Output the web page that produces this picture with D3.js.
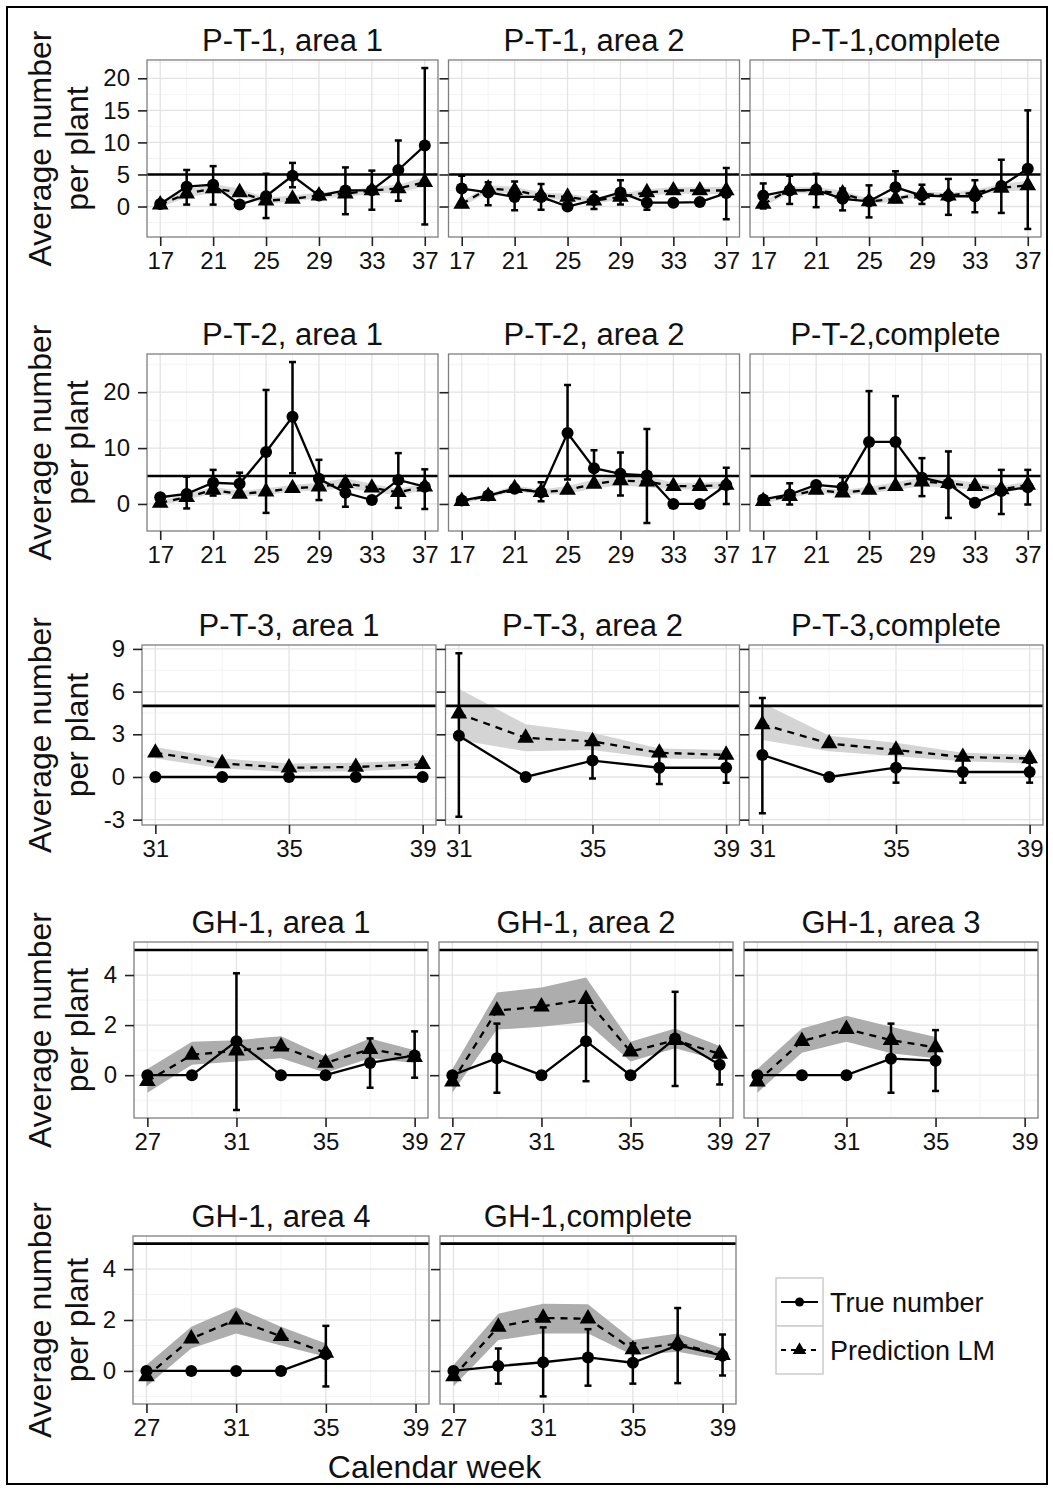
<!DOCTYPE html>
<html>
<head>
<meta charset="utf-8">
<script src="https://cdn.jsdelivr.net/npm/d3@7"></script>
<style>
  body { margin: 0; background: #fff; }
  svg text { font-family: "Liberation Sans", Arial, sans-serif; fill: #111; }
</style>
</head>
<body>
<svg id="chart" width="1053" height="1490"></svg>
<script>
// calendar weeks per trial
const weeksPT = [17, 19, 21, 23, 25, 27, 29, 31, 33, 35, 37];
const weeksPT3 = [31, 33, 35, 37, 39];
const weeksGH = [27, 29, 31, 33, 35, 37, 39];
const weeksGHshort = [27, 29, 31, 33, 35];
const threshold = 5;

// P-T-1, area 1
const pt1a1True = [0.4, 3.1, 3.4, 0.3, 1.6, 4.8, 1.7, 2.5, 2.55, 5.7, 9.5];
const pt1a1ErrLo = [null, 0.3, 0.3, null, -1.8, 3.0, null, -1.2, -0.5, 0.9, -2.8];
const pt1a1ErrHi = [null, 5.7, 6.3, null, 5.1, 6.8, null, 6.1, 5.6, 10.3, 21.6];
const pt1a1Pred = [0.3, 2.0, 2.8, 2.2, 0.9, 1.2, 1.7, 2.0, 2.5, 2.8, 3.8];
const pt1a1BandLo = [-0.1, 1.4, 2.1, 1.6, 0.4, 0.8, 1.3, 1.5, 2.0, 2.2, 3.1];
const pt1a1BandHi = [0.7, 2.6, 3.5, 2.8, 1.4, 1.7, 2.2, 2.5, 3.0, 3.4, 4.6];

// P-T-1, area 2
const pt1a2True = [2.8, 2.2, 1.5, 1.5, 0, 1.0, 2.2, 0.6, 0.6, 0.7, 2.1];
const pt1a2ErrLo = [0.8, 0.2, -0.6, -0.5, null, -0.4, 0.3, -0.5, null, null, -2.0];
const pt1a2ErrHi = [4.8, 3.8, 3.9, 3.5, null, 2.3, 4.1, 1.7, null, null, 6.0];
const pt1a2Pred = [0.4, 2.8, 2.5, 1.7, 1.5, 0.9, 1.5, 2.2, 2.5, 2.5, 2.5];
const pt1a2BandLo = [0.0, 2.2, 2.0, 1.2, 1.0, 0.5, 1.0, 1.7, 2.0, 2.0, 1.9];
const pt1a2BandHi = [0.8, 3.3, 3.1, 2.2, 2.0, 1.4, 2.0, 2.7, 3.0, 3.0, 3.1];

// P-T-1, complete
const pt1cTrue = [1.7, 2.5, 2.6, 1.2, 0.8, 3.0, 1.7, 1.6, 1.6, 3.2, 5.9];
const pt1cErrLo = [-0.3, 0.4, -0.1, -0.6, -1.7, 0.7, 0.4, -1.3, -0.9, -1.0, -3.5];
const pt1cErrHi = [3.6, 4.8, 5.1, 2.8, 3.3, 5.5, 3.4, 4.3, 4.1, 7.3, 15.0];
const pt1cPred = [0.4, 2.6, 2.5, 2.0, 0.8, 1.2, 2.0, 1.7, 2.2, 2.9, 3.3];
const pt1cBandLo = [0.0, 2.1, 2.0, 1.5, 0.4, 0.8, 1.6, 1.3, 1.8, 2.3, 2.6];
const pt1cBandHi = [0.8, 3.1, 3.0, 2.5, 1.2, 1.6, 2.4, 2.1, 2.6, 3.5, 4.0];

// P-T-2, area 1
const pt2a1True = [1.2, 1.8, 3.8, 3.6, 9.3, 15.6, 4.5, 2.0, 0.7, 4.3, 3.1];
const pt2a1ErrLo = [null, -0.8, 1.5, 1.5, -1.6, 5.5, 0.7, -0.5, null, -0.7, -0.9];
const pt2a1ErrHi = [null, 4.9, 6.1, 5.6, 20.4, 25.4, 7.9, 4.2, null, 9.1, 6.2];
const pt2a1Pred = [0.2, 1.2, 2.5, 1.8, 2.2, 2.8, 3.1, 3.7, 2.9, 2.1, 3.1];
const pt2a1BandLo = [-0.2, 0.7, 1.9, 1.3, 1.6, 2.2, 2.4, 2.8, 2.2, 1.5, 2.5];
const pt2a1BandHi = [0.6, 1.7, 3.1, 2.3, 2.8, 3.4, 3.8, 4.6, 3.6, 2.7, 3.7];

// P-T-2, area 2
const pt2a2True = [0.6, 1.5, 2.7, 2.1, 12.7, 6.4, 5.4, 5.1, 0, 0, 3.4];
const pt2a2ErrLo = [null, null, null, 0.5, 4.4, 3.2, 1.5, -3.4, null, null, 0.0];
const pt2a2ErrHi = [null, null, null, 3.9, 21.3, 9.6, 9.2, 13.4, null, null, 6.5];
const pt2a2Pred = [0.5, 1.4, 2.8, 2.1, 2.5, 3.6, 4.2, 4.0, 3.2, 3.2, 3.4];
const pt2a2BandLo = [0.1, 1.0, 2.3, 1.6, 1.8, 2.8, 3.3, 3.0, 2.6, 2.6, 2.8];
const pt2a2BandHi = [0.9, 1.8, 3.3, 2.6, 3.2, 4.4, 5.1, 5.0, 3.8, 3.8, 4.0];

// P-T-2, complete
const pt2cTrue = [0.8, 1.7, 3.4, 3.0, 11.1, 11.1, 4.7, 3.6, 0.2, 2.3, 3.0];
const pt2cErrLo = [null, -0.1, null, 1.5, 2.9, 2.9, 1.4, -2.5, null, -1.8, -0.1];
const pt2cErrHi = [null, 3.7, null, 4.8, 20.2, 19.3, 8.2, 9.4, null, 6.1, 6.1];
const pt2cPred = [0.5, 1.4, 2.5, 2.0, 2.5, 3.2, 4.0, 3.7, 3.2, 2.6, 3.4];
const pt2cBandLo = [0.1, 1.0, 2.0, 1.5, 1.9, 2.5, 3.2, 2.9, 2.6, 2.0, 2.8];
const pt2cBandHi = [0.9, 1.8, 3.0, 2.5, 3.1, 3.9, 4.8, 4.5, 3.8, 3.2, 4.0];

// P-T-3
const pt3a1True = [0, 0, 0, 0, 0];
const pt3a1ErrLo = [null, null, null, null, null];
const pt3a1ErrHi = [null, null, null, null, null];
const pt3a1Pred = [1.7, 0.95, 0.65, 0.7, 0.9];
const pt3a1BandLo = [1.3, 0.6, 0.35, 0.4, 0.6];
const pt3a1BandHi = [2.1, 1.3, 0.95, 1.0, 1.2];

const pt3a2True = [2.9, 0, 1.15, 0.65, 0.65];
const pt3a2ErrLo = [-2.8, null, -0.1, -0.5, -0.4];
const pt3a2ErrHi = [8.7, null, 2.5, 1.7, 1.6];
const pt3a2Pred = [4.45, 2.75, 2.5, 1.7, 1.55];
const pt3a2BandLo = [2.6, 1.8, 1.9, 1.3, 1.25];
const pt3a2BandHi = [6.2, 3.7, 3.1, 2.0, 1.9];

const pt3cTrue = [1.55, 0, 0.65, 0.35, 0.35];
const pt3cErrLo = [-2.55, null, -0.4, -0.4, -0.4];
const pt3cErrHi = [5.55, null, 1.9, 1.2, 1.0];
const pt3cPred = [3.7, 2.35, 1.9, 1.4, 1.3];
const pt3cBandLo = [2.6, 1.8, 1.45, 1.1, 0.95];
const pt3cBandHi = [5.2, 2.9, 2.4, 1.7, 1.55];

// GH-1
const gh1a1True = [0, 0, 1.36, 0, 0, 0.49, 0.79];
const gh1a1ErrLo = [null, null, -1.39, null, null, -0.5, -0.1];
const gh1a1ErrHi = [null, null, 4.07, null, null, 1.47, 1.75];
const gh1a1Pred = [-0.24, 0.81, 0.98, 1.14, 0.49, 1.04, 0.72];
const gh1a1BandLo = [-0.7, 0.42, 0.55, 0.68, 0.1, 0.68, 0.49];
const gh1a1BandHi = [0.25, 1.34, 1.4, 1.56, 0.75, 1.47, 1.0];

const gh1a2True = [0, 0.68, 0, 1.36, 0, 1.47, 0.42];
const gh1a2ErrLo = [null, -0.7, null, -0.24, null, -0.43, -0.37];
const gh1a2ErrHi = [null, 2.06, null, 3.1, null, 3.33, 0.75];
const gh1a2Pred = [-0.26, 2.58, 2.74, 3.04, 0.94, 1.4, 0.85];
const gh1a2BandLo = [-0.7, 1.82, 1.93, 2.12, 0.55, 1.08, 0.59];
const gh1a2BandHi = [0.25, 3.3, 3.5, 3.9, 1.34, 1.86, 1.17];

const gh1a3True = [0, 0, 0, 0.66, 0.58];
const gh1a3ErrLo = [null, null, null, -0.7, -0.63];
const gh1a3ErrHi = [null, null, null, 2.06, 1.8];
const gh1a3Pred = [-0.26, 1.36, 1.84, 1.4, 1.11];
const gh1a3BandLo = [-0.7, 0.9, 1.34, 0.88, 0.68];
const gh1a3BandHi = [0.25, 1.86, 2.37, 1.93, 1.53];

const gh1a4True = [0, 0, 0, 0, 0.65];
const gh1a4ErrLo = [null, null, null, null, -0.61];
const gh1a4ErrHi = [null, null, null, null, 1.77];
const gh1a4Pred = [-0.22, 1.27, 2.01, 1.36, 0.71];
const gh1a4BandLo = [-0.61, 0.88, 1.47, 1.0, 0.56];
const gh1a4BandHi = [0.23, 1.73, 2.5, 1.73, 1.08];

const gh1cTrue = [0, 0.19, 0.34, 0.53, 0.32, 1.01, 0.6];
const gh1cErrLo = [null, -0.5, -1.0, -0.58, -0.5, -0.48, -0.18];
const gh1cErrHi = [null, 0.88, 1.71, 1.64, 1.08, 2.47, 1.43];
const gh1cPred = [-0.22, 1.73, 2.08, 2.05, 0.84, 1.08, 0.62];
const gh1cBandLo = [-0.61, 1.21, 1.47, 1.47, 0.62, 0.75, 0.43];
const gh1cBandHi = [0.23, 2.25, 2.64, 2.62, 1.21, 1.47, 0.88];

// axis ticks per row
const xTicksPT = [17, 21, 25, 29, 33, 37];
const xTicksPT3 = [31, 35, 39];
const xTicksGH = [27, 31, 35, 39];
const yTicksPT1 = [0, 5, 10, 15, 20];
const yTicksPT2 = [0, 10, 20];
const yTicksPT3 = [-3, 0, 3, 6, 9];
const yTicksGH = [0, 2, 4];

const legendLabels = ['True number', 'Prediction LM'];

// layout of the five rows (pixels)
const rows = [
  { top: 60, bottom: 237, left: 147, width: 291, gap: 10.5, xTicks: xTicksPT, yTicks: yTicksPT1, band: '#dadada' },
  { top: 354, bottom: 531, left: 147, width: 291, gap: 10.5, xTicks: xTicksPT, yTicks: yTicksPT2, band: '#dadada' },
  { top: 645, bottom: 825, left: 142, width: 294, gap: 9.5, xTicks: xTicksPT3, yTicks: yTicksPT3, band: '#d4d4d4' },
  { top: 942, bottom: 1118, left: 134, width: 294, gap: 11, xTicks: xTicksGH, yTicks: yTicksGH, band: '#adadad' },
  { top: 1236, bottom: 1404, left: 133, width: 296, gap: 11, xTicks: xTicksGH, yTicks: yTicksGH, band: '#adadad' }
];

const panels = [
  { row: 0, col: 0, title: 'P-T-1, area 1', weeks: weeksPT, obs: pt1a1True, lo: pt1a1ErrLo, hi: pt1a1ErrHi, pred: pt1a1Pred, bLo: pt1a1BandLo, bHi: pt1a1BandHi },
  { row: 0, col: 1, title: 'P-T-1, area 2', weeks: weeksPT, obs: pt1a2True, lo: pt1a2ErrLo, hi: pt1a2ErrHi, pred: pt1a2Pred, bLo: pt1a2BandLo, bHi: pt1a2BandHi },
  { row: 0, col: 2, title: 'P-T-1,complete', weeks: weeksPT, obs: pt1cTrue, lo: pt1cErrLo, hi: pt1cErrHi, pred: pt1cPred, bLo: pt1cBandLo, bHi: pt1cBandHi },
  { row: 1, col: 0, title: 'P-T-2, area 1', weeks: weeksPT, obs: pt2a1True, lo: pt2a1ErrLo, hi: pt2a1ErrHi, pred: pt2a1Pred, bLo: pt2a1BandLo, bHi: pt2a1BandHi },
  { row: 1, col: 1, title: 'P-T-2, area 2', weeks: weeksPT, obs: pt2a2True, lo: pt2a2ErrLo, hi: pt2a2ErrHi, pred: pt2a2Pred, bLo: pt2a2BandLo, bHi: pt2a2BandHi },
  { row: 1, col: 2, title: 'P-T-2,complete', weeks: weeksPT, obs: pt2cTrue, lo: pt2cErrLo, hi: pt2cErrHi, pred: pt2cPred, bLo: pt2cBandLo, bHi: pt2cBandHi },
  { row: 2, col: 0, title: 'P-T-3, area 1', weeks: weeksPT3, obs: pt3a1True, lo: pt3a1ErrLo, hi: pt3a1ErrHi, pred: pt3a1Pred, bLo: pt3a1BandLo, bHi: pt3a1BandHi },
  { row: 2, col: 1, title: 'P-T-3, area 2', weeks: weeksPT3, obs: pt3a2True, lo: pt3a2ErrLo, hi: pt3a2ErrHi, pred: pt3a2Pred, bLo: pt3a2BandLo, bHi: pt3a2BandHi },
  { row: 2, col: 2, title: 'P-T-3,complete', weeks: weeksPT3, obs: pt3cTrue, lo: pt3cErrLo, hi: pt3cErrHi, pred: pt3cPred, bLo: pt3cBandLo, bHi: pt3cBandHi },
  { row: 3, col: 0, title: 'GH-1, area 1', weeks: weeksGH, obs: gh1a1True, lo: gh1a1ErrLo, hi: gh1a1ErrHi, pred: gh1a1Pred, bLo: gh1a1BandLo, bHi: gh1a1BandHi },
  { row: 3, col: 1, title: 'GH-1, area 2', weeks: weeksGH, obs: gh1a2True, lo: gh1a2ErrLo, hi: gh1a2ErrHi, pred: gh1a2Pred, bLo: gh1a2BandLo, bHi: gh1a2BandHi },
  { row: 3, col: 2, title: 'GH-1, area 3', weeks: weeksGHshort, obs: gh1a3True, lo: gh1a3ErrLo, hi: gh1a3ErrHi, pred: gh1a3Pred, bLo: gh1a3BandLo, bHi: gh1a3BandHi },
  { row: 4, col: 0, title: 'GH-1, area 4', weeks: weeksGHshort, obs: gh1a4True, lo: gh1a4ErrLo, hi: gh1a4ErrHi, pred: gh1a4Pred, bLo: gh1a4BandLo, bHi: gh1a4BandHi },
  { row: 4, col: 1, title: 'GH-1,complete', weeks: weeksGH, obs: gh1cTrue, lo: gh1cErrLo, hi: gh1cErrHi, pred: gh1cPred, bLo: gh1cBandLo, bHi: gh1cBandHi }
];

const svg = d3.select('#chart');

// outer frame
svg.append('rect')
  .attr('x', 7).attr('y', 7)
  .attr('width', 1040).attr('height', 1477)
  .attr('fill', 'none').attr('stroke', '#000').attr('stroke-width', 2);

// ggplot style expansion: 5% on each side of the data range
function expand(ext) {
  const d = (ext[1] - ext[0]) * 0.05;
  return [ext[0] - d, ext[1] + d];
}

function minorBreaks(ticks, domain) {
  const step = ticks[1] - ticks[0];
  const out = [];
  for (let i = -1; i < ticks.length; i++) {
    const v = ticks[0] + (i + 0.5) * step;
    if (v > domain[0] && v < domain[1]) out.push(v);
  }
  return out;
}

// shared scales per row (facets share x and y)
rows.forEach((r, ri) => {
  const ps = panels.filter(p => p.row === ri);
  const weeks = ps.flatMap(p => p.weeks);
  const vals = ps.flatMap(p => [...p.obs, ...p.lo, ...p.hi, ...p.pred, ...p.bLo, ...p.bHi]).filter(v => v !== null);
  vals.push(threshold);
  r.xDomain = expand(d3.extent(weeks));
  r.yDomain = expand(d3.extent(vals));
});

const titleSize = 31, tickSize = 24, axisTitleSize = 32;
// plain hyphen for negatives, like the original
const fmtTick = v => String(v);

function drawPanel(p) {
  const r = rows[p.row];
  const px = r.left + p.col * (r.width + r.gap);
  const h = r.bottom - r.top;
  const x = d3.scaleLinear().domain(r.xDomain).range([0, r.width]);
  const y = d3.scaleLinear().domain(r.yDomain).range([h, 0]);

  const g = svg.append('g').attr('transform', 'translate(' + px + ',' + r.top + ')');
  const clipId = 'clip-' + p.row + '-' + p.col;
  g.append('clipPath').attr('id', clipId)
    .append('rect').attr('width', r.width).attr('height', h);

  g.append('rect').attr('width', r.width).attr('height', h).attr('fill', '#fff');

  // grid lines
  const grid = g.append('g');
  minorBreaks(r.xTicks, r.xDomain).forEach(v => {
    grid.append('line').attr('x1', x(v)).attr('x2', x(v)).attr('y1', 0).attr('y2', h)
      .attr('stroke', '#f3f3f3').attr('stroke-width', 1);
  });
  minorBreaks(r.yTicks, r.yDomain).forEach(v => {
    grid.append('line').attr('y1', y(v)).attr('y2', y(v)).attr('x1', 0).attr('x2', r.width)
      .attr('stroke', '#f3f3f3').attr('stroke-width', 1);
  });
  r.xTicks.forEach(v => {
    grid.append('line').attr('x1', x(v)).attr('x2', x(v)).attr('y1', 0).attr('y2', h)
      .attr('stroke', '#e3e3e3').attr('stroke-width', 1.3);
  });
  r.yTicks.forEach(v => {
    grid.append('line').attr('y1', y(v)).attr('y2', y(v)).attr('x1', 0).attr('x2', r.width)
      .attr('stroke', '#e3e3e3').attr('stroke-width', 1.3);
  });

  const plot = g.append('g').attr('clip-path', 'url(#' + clipId + ')');
  const idx = d3.range(p.weeks.length);

  // prediction band
  const band = d3.area()
    .x(i => x(p.weeks[i]))
    .y0(i => y(p.bLo[i]))
    .y1(i => y(p.bHi[i]));
  plot.append('path').attr('d', band(idx)).attr('fill', r.band);

  // threshold line
  plot.append('line')
    .attr('x1', 0).attr('x2', r.width)
    .attr('y1', y(threshold)).attr('y2', y(threshold))
    .attr('stroke', '#000').attr('stroke-width', 2.6);

  const predLine = d3.line().x(i => x(p.weeks[i])).y(i => y(p.pred[i]));
  plot.append('path').attr('d', predLine(idx))
    .attr('fill', 'none').attr('stroke', '#000').attr('stroke-width', 2.3)
    .attr('stroke-dasharray', '7,6');

  const obsLine = d3.line().x(i => x(p.weeks[i])).y(i => y(p.obs[i]));
  plot.append('path').attr('d', obsLine(idx))
    .attr('fill', 'none').attr('stroke', '#000').attr('stroke-width', 2.3);

  // error bars on observed means
  const bars = idx.filter(i => p.lo[i] !== null);
  bars.forEach(i => {
    const cx = x(p.weeks[i]);
    plot.append('line').attr('x1', cx).attr('x2', cx)
      .attr('y1', y(p.lo[i])).attr('y2', y(p.hi[i]))
      .attr('stroke', '#000').attr('stroke-width', 2.5);
    [p.lo[i], p.hi[i]].forEach(v => {
      plot.append('line').attr('x1', cx - 3.5).attr('x2', cx + 3.5)
        .attr('y1', y(v)).attr('y2', y(v))
        .attr('stroke', '#000').attr('stroke-width', 2.5);
    });
  });

  plot.selectAll('.tri').data(idx).join('path')
    .attr('class', 'tri')
    .attr('transform', i => 'translate(' + x(p.weeks[i]) + ',' + y(p.pred[i]) + ')')
    .attr('d', d3.symbol(d3.symbolTriangle, 120))
    .attr('fill', '#000');

  plot.selectAll('.dot').data(idx).join('circle')
    .attr('class', 'dot')
    .attr('cx', i => x(p.weeks[i]))
    .attr('cy', i => y(p.obs[i]))
    .attr('r', 6)
    .attr('fill', '#000');

  // panel border
  g.append('rect').attr('width', r.width).attr('height', h)
    .attr('fill', 'none').attr('stroke', '#7f7f7f').attr('stroke-width', 1.3);

  // x axis
  const xAxis = g.append('g').attr('transform', 'translate(0,' + h + ')')
    .call(d3.axisBottom(x).tickValues(r.xTicks).tickSize(9).tickPadding(6).tickFormat(fmtTick));
  xAxis.select('.domain').remove();
  xAxis.selectAll('.tick line').attr('stroke', '#222').attr('stroke-width', 1.6);
  xAxis.selectAll('.tick text').attr('font-size', tickSize).attr('fill', '#111');

  // y axis
  const yAxis = g.append('g')
    .call(d3.axisLeft(y).tickValues(r.yTicks).tickSize(9).tickPadding(8).tickFormat(fmtTick));
  yAxis.select('.domain').remove();
  yAxis.selectAll('.tick line').attr('stroke', '#222').attr('stroke-width', 1.6);
  yAxis.selectAll('.tick text').attr('font-size', tickSize).attr('fill', '#111');
  if (p.col > 0) yAxis.selectAll('.tick text').remove();

  // panel title
  g.append('text')
    .attr('x', r.width / 2)
    .attr('y', -20 + titleSize * 0.36)
    .attr('text-anchor', 'middle')
    .attr('font-size', titleSize)
    .text(p.title);
}

panels.forEach(drawPanel);

// y axis title on each row
rows.forEach(r => {
  const cy = (r.top + r.bottom) / 2;
  [['Average number', 51], ['per plant', 88]].forEach(([label, bx]) => {
    svg.append('text')
      .attr('transform', 'translate(' + bx + ',' + cy + ') rotate(-90)')
      .attr('text-anchor', 'middle')
      .attr('font-size', axisTitleSize)
      .text(label);
  });
});

// x axis title under the last row
const last = rows[4];
svg.append('text')
  .attr('x', last.left + last.width + last.gap / 2)
  .attr('y', 1478)
  .attr('text-anchor', 'middle')
  .attr('font-size', axisTitleSize)
  .text('Calendar week');

// legend
const lg = svg.append('g').attr('transform', 'translate(776,1278)');
const keyW = 47, keyH = 48;
legendLabels.forEach((label, i) => {
  const k = lg.append('g').attr('transform', 'translate(0,' + i * keyH + ')');
  k.append('rect').attr('width', keyW).attr('height', keyH)
    .attr('fill', '#fff').attr('stroke', '#cfcfcf').attr('stroke-width', 1.6);
  k.append('line').attr('x1', 5).attr('x2', keyW - 5)
    .attr('y1', keyH / 2).attr('y2', keyH / 2)
    .attr('stroke', '#000').attr('stroke-width', 2.2)
    .attr('stroke-dasharray', i === 1 ? '5,5' : null);
  if (i === 0) {
    k.append('circle').attr('cx', keyW / 2).attr('cy', keyH / 2).attr('r', 4.5).attr('fill', '#000');
  } else {
    k.append('path').attr('transform', 'translate(' + keyW / 2 + ',' + keyH / 2 + ')')
      .attr('d', d3.symbol(d3.symbolTriangle, 80)).attr('fill', '#000');
  }
  k.append('text')
    .attr('x', keyW + 7)
    .attr('y', keyH / 2 + 27 * 0.36)
    .attr('font-size', 27)
    .text(label);
});
</script>
</body>
</html>
